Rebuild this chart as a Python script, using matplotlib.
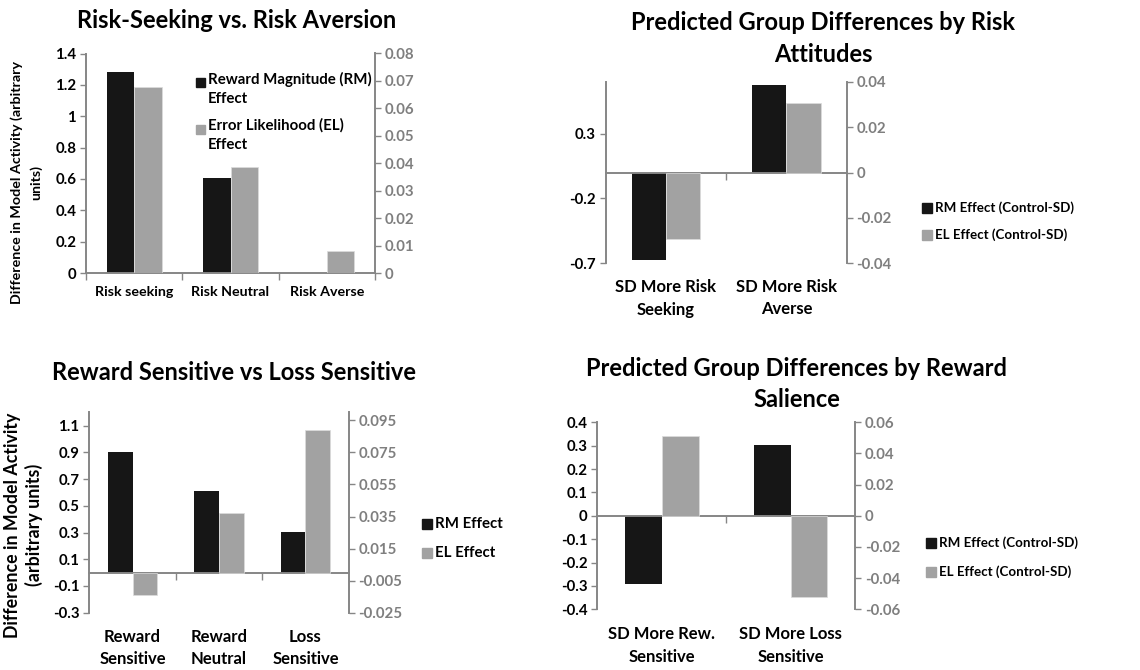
import numpy as np
import matplotlib
matplotlib.use("Agg")
import matplotlib.pyplot as plt
from matplotlib.patches import Rectangle
from matplotlib.transforms import blended_transform_factory

# ---- data ----
p1_cats = ["Risk seeking", "Risk Neutral", "Risk Averse"]
p1_rm = [1.285, 0.608, -0.008]
p1_el = [0.0678, 0.0387, 0.0081]

p2_cats = ["SD More Risk\nSeeking", "SD More Risk\nAverse"]
p2_rm = [-0.674, 0.671]
p2_el = [-0.0292, 0.0308]

p3_cats = ["Reward\nSensitive", "Reward\nNeutral", "Loss\nSensitive"]
p3_rm = [0.903, 0.614, 0.304]
p3_el = [-0.0137, 0.0369, 0.0889]

p4_cats = ["SD More Rew.\nSensitive", "SD More Loss\nSensitive"]
p4_rm = [-0.293, 0.305]
p4_el = [0.0513, -0.052]

RM_C = "#161616"
EL_C = "#a2a2a2"
AX_C = "#868686"
R_TXT = "#7f7f7f"
W, H = 1140, 670
FONT = "Lato"

plt.rcParams["font.family"] = [FONT, "DejaVu Sans"]
plt.rcParams["font.weight"] = "bold"

fig = plt.figure(figsize=(W / 100, H / 100), dpi=100)


def px(x, y):
    return x / W, 1 - y / H


def add_ax(l, r, t, b):
    return fig.add_axes([l / W, 1 - b / H, (r - l) / W, (b - t) / H])


def fmt(v):
    s = f"{round(v, 4):g}"
    return "0" if s in ("-0", "0") else s


def panel(box, cats, rm, el, lylim, lticks, rylim, rticks, lab_fs, lab_y, tick_fs, edge_ticks):
    ax = add_ax(*box)
    ax2 = ax.twinx()
    n = len(cats)
    x = np.arange(n)
    w = 1 / 3.5
    ax.bar(x - w / 2, rm, w, color=RM_C, zorder=3)
    ax2.bar(x + w / 2, el, w, color=EL_C, edgecolor="#dcdcdc", lw=0.5, zorder=3)
    ax.set_xlim(-0.5, n - 0.5)
    ax.set_ylim(*lylim)
    ax2.set_ylim(*rylim)
    ax.set_yticks(lticks)
    ax.set_yticklabels([fmt(v) for v in lticks])
    ax2.set_yticks(rticks)
    ax2.set_yticklabels([fmt(v) for v in rticks])
    for a in (ax, ax2):
        a.set_facecolor("none")
        a.spines["top"].set_visible(False)
        for s in a.spines.values():
            s.set_color(AX_C)
            s.set_linewidth(1.4)
    ax.spines["right"].set_visible(False)
    ax2.spines["left"].set_visible(False)
    ax2.spines["bottom"].set_visible(False)
    ax.spines["bottom"].set_position(("data", 0))
    ax.spines["bottom"].set_zorder(4)
    ax.tick_params(axis="y", colors=AX_C, labelcolor="black", labelsize=tick_fs,
                   length=4, width=1, pad=3)
    ax2.tick_params(axis="y", colors=AX_C, labelcolor=R_TXT, labelsize=tick_fs,
                    length=4, width=1, pad=3)
    xt = np.arange(-0.5, n, 1.0) if edge_ticks else np.arange(0.5, n - 1, 1.0)
    ax.set_xticks(xt)
    ax.set_xticklabels([])
    ax.tick_params(axis="x", colors=AX_C, length=5, width=1, direction="out")
    tr = blended_transform_factory(ax.transData, fig.transFigure)
    for i, c in enumerate(cats):
        ax.text(i, 1 - lab_y / H, c, transform=tr, ha="center", va="top",
                fontsize=lab_fs, fontweight="bold", linespacing=1.5)
    return ax, ax2


def legend(x, ys, labels, colors, fs, sq=10):
    for y, lab, col in zip(ys, labels, colors):
        fig.add_artist(Rectangle(px(x, y + sq / 2), sq / W, sq / H, color=col,
                                 transform=fig.transFigure))
        fig.text(*px(x + sq + 3, y), lab, fontsize=fs, fontweight="bold",
                 ha="left", va="center")


def title(x, y, s, fs=17):
    fig.text(*px(x, y), s, fontsize=fs, fontweight="bold", ha="center", va="center")


# ---- panel 1 ----
panel((86, 375, 53.5, 273), p1_cats, p1_rm, p1_el, (0, 1.4), np.arange(0, 1.41, 0.2),
      (0, 0.08), np.arange(0, 0.081, 0.01), 10.3, 286, 10.8, True)
title(237, 21, "Risk-Seeking vs. Risk Aversion")
fig.text(*px(26, 182), "Difference in Model Activity (arbitrary\nunits)", rotation=90,
         fontsize=10.3, fontweight="bold", ha="center", va="center",
         multialignment="center", linespacing=1.6)
fig.add_artist(Rectangle(px(195.5, 87), 9 / W, 9 / H, color=RM_C, transform=fig.transFigure))
fig.add_artist(Rectangle(px(195.5, 133.5), 9 / W, 9 / H, color=EL_C, transform=fig.transFigure))
fig.text(*px(208, 72), "Reward Magnitude (RM)\nEffect", fontsize=10.8, fontweight="bold",
         ha="left", va="top", linespacing=1.45)
fig.text(*px(208, 118.5), "Error Likelihood (EL)\nEffect", fontsize=10.8, fontweight="bold",
         ha="left", va="top", linespacing=1.45)

# ---- panel 2 ----
panel((605.7, 846.7, 81.7, 263.3), p2_cats, p2_rm, p2_el, (-0.7, 0.7), [-0.7, -0.2, 0.3],
      (-0.04, 0.04), np.arange(-0.04, 0.041, 0.02), 12, 279, 10.8, False)
title(823, 22, "Predicted Group Differences by Risk")
title(823, 55, "Attitudes")
legend(922, [207.7, 235], ["RM Effect (Control-SD)", "EL Effect (Control-SD)"],
       [RM_C, EL_C], 9.6)

# ---- panel 3 ----
panel((89.3, 348.7, 412.3, 612.7), p3_cats, p3_rm, p3_el, (-0.3, 1.2),
      np.arange(-0.3, 1.11, 0.2), (-0.025, 0.1), np.arange(-0.025, 0.096, 0.02),
      12, 629, 10.8, False)
title(234, 373, "Reward Sensitive vs Loss Sensitive")
fig.text(*px(23.5, 525), "Difference in Model Activity\n(arbitrary units)", rotation=90,
         fontsize=12.8, fontweight="bold", ha="center", va="center",
         multialignment="center", linespacing=1.2)
legend(422, [524.3, 553], ["RM Effect", "EL Effect"], [RM_C, EL_C], 10.8)

# ---- panel 4 ----
panel((597.3, 855, 422.3, 609.3), p4_cats, p4_rm, p4_el, (-0.4, 0.4),
      np.arange(-0.4, 0.41, 0.1), (-0.06, 0.06), np.arange(-0.06, 0.061, 0.02),
      12, 626, 10.8, False)
title(797, 368, "Predicted Group Differences by Reward")
title(797, 400, "Salience")
legend(926, [542.7, 571.7], ["RM Effect (Control-SD)", "EL Effect (Control-SD)"],
       [RM_C, EL_C], 9.6)

fig.savefig("out.png", dpi=100)
